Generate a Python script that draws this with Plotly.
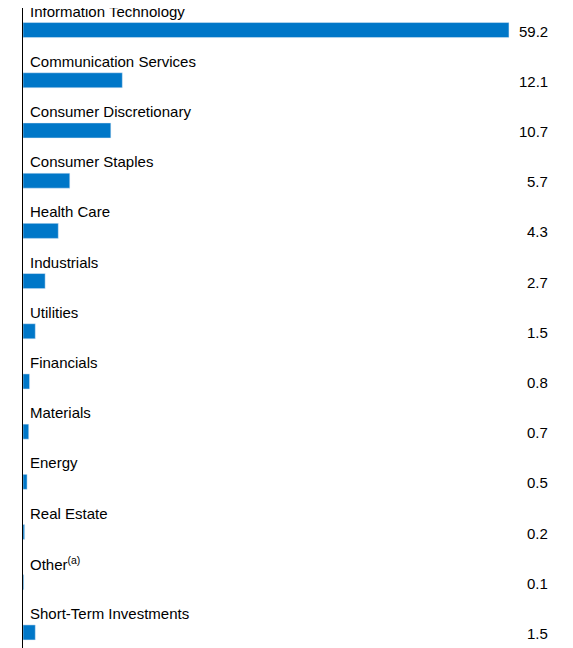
import plotly.graph_objects as go

sectors = [
    'Information Technology', 'Communication Services', 'Consumer Discretionary',
    'Consumer Staples', 'Health Care', 'Industrials', 'Utilities', 'Financials',
    'Materials', 'Energy', 'Real Estate', 'Other<sup>(a)</sup>', 'Short-Term Investments',
]
weights = [59.2, 12.1, 10.7, 5.7, 4.3, 2.7, 1.5, 0.8, 0.7, 0.5, 0.2, 0.1, 1.5]

pos = list(range(len(sectors)))

fig = go.Figure(go.Bar(
    x=weights, y=pos, orientation='h',
    marker_color='#0077c8', width=0.3,
    hoverinfo='skip',
))

for i, (name, val) in enumerate(zip(sectors, weights)):
    # sector label above the bar
    fig.add_annotation(x=0, y=i, text=name, showarrow=False, xanchor='left',
                       yanchor='middle', xshift=5, yshift=19,
                       font=dict(size=15, color='#000000'))
    # value on the right
    fig.add_annotation(x=1, xref='paper', y=i, text=f'{val:.1f}', showarrow=False,
                       xanchor='right', yanchor='middle', xshift=-23, yshift=-1,
                       font=dict(size=15, color='#000000'))

fig.update_layout(
    width=565, height=640,
    margin=dict(l=15, r=0, t=0, b=0),
    plot_bgcolor='white', paper_bgcolor='white',
    font=dict(family='Liberation Sans, Arial, sans-serif'),
    showlegend=False,
    xaxis=dict(range=[0, 67], visible=False),
    yaxis=dict(range=[12.31, -0.44], showticklabels=False, showgrid=False,
               zeroline=False, showline=True, linecolor='#000000', linewidth=1),
)

fig.write_html('out.html')
